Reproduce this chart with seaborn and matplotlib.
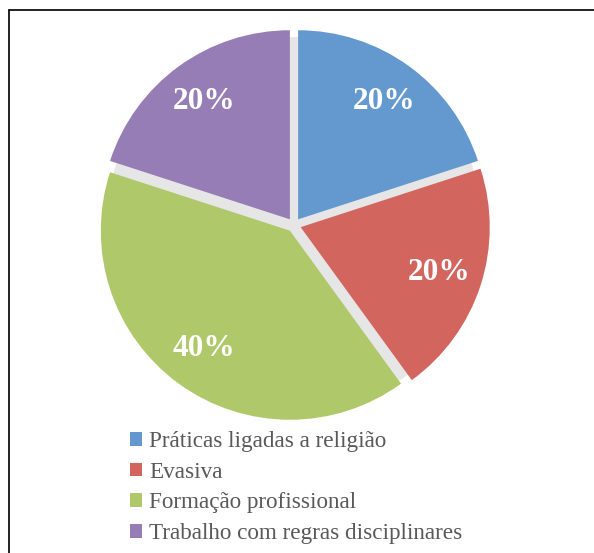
import matplotlib
matplotlib.use("Agg")
import numpy as np
import matplotlib.pyplot as plt
import seaborn as sns
from matplotlib.patches import Patch, Circle
from matplotlib.lines import Line2D

sns.set_theme(style="white")
plt.rcParams['font.family'] = ['Liberation Serif', 'DejaVu Serif']

categories = ["Práticas ligadas a religião", "Evasiva", "Formação profissional",
              "Trabalho com regras disciplinares"]
values = [20, 20, 40, 20]
labels = ["20%", "20%", "40%", "20%"]
colors = ["#6399CF", "#D3655F", "#AFC86A", "#977DB5"]

fig = plt.figure(figsize=(5.94, 5.53), dpi=100)
fig.patch.set_facecolor("white")

# frame lines (top and left)
fig.add_artist(Line2D([9/594, 1], [1 - 9.5/553, 1 - 9.5/553], color="#111111", lw=1.3,
                      transform=fig.transFigure))
fig.add_artist(Line2D([9/594, 9/594], [0, 1 - 9.5/553], color="#111111", lw=1.3,
                      transform=fig.transFigure))

ax = fig.add_axes([86/594, 120/553, 416/594, 416/553])
ax.add_patch(Circle((0, 0), 0.99, color="#E6E6E6", zorder=0))
explode = [0.037] * len(values)
wedges, texts = ax.pie(values, colors=colors, startangle=90, counterclock=False,
                       explode=explode, radius=1.0,
                       wedgeprops=dict(linewidth=0, zorder=2))
for w, lab in zip(wedges, labels):
    th = np.deg2rad((w.theta1 + w.theta2) / 2)
    cx, cy = w.center
    ax.text(cx + 0.77 * np.cos(th), cy + 0.77 * np.sin(th), lab, ha="center", va="center",
            color="white", fontsize=22.5, fontweight="bold", zorder=3)
ax.set_xlim(-1.1, 1.1)
ax.set_ylim(-1.1, 1.1)
ax.set_aspect("equal")
ax.axis("off")

handles = [Patch(facecolor=c, edgecolor="none") for c in colors]
leg = fig.legend(handles, categories, loc="upper left", bbox_to_anchor=(130/594, 1 - 431/553),
                 frameon=False, fontsize=16.7, handlelength=0.52, handleheight=0.52,
                 handletextpad=0.3, labelspacing=0.42, borderpad=0, borderaxespad=0)
for t in leg.get_texts():
    t.set_color("#595959")

fig.savefig("out.png", dpi=100, facecolor="white")
